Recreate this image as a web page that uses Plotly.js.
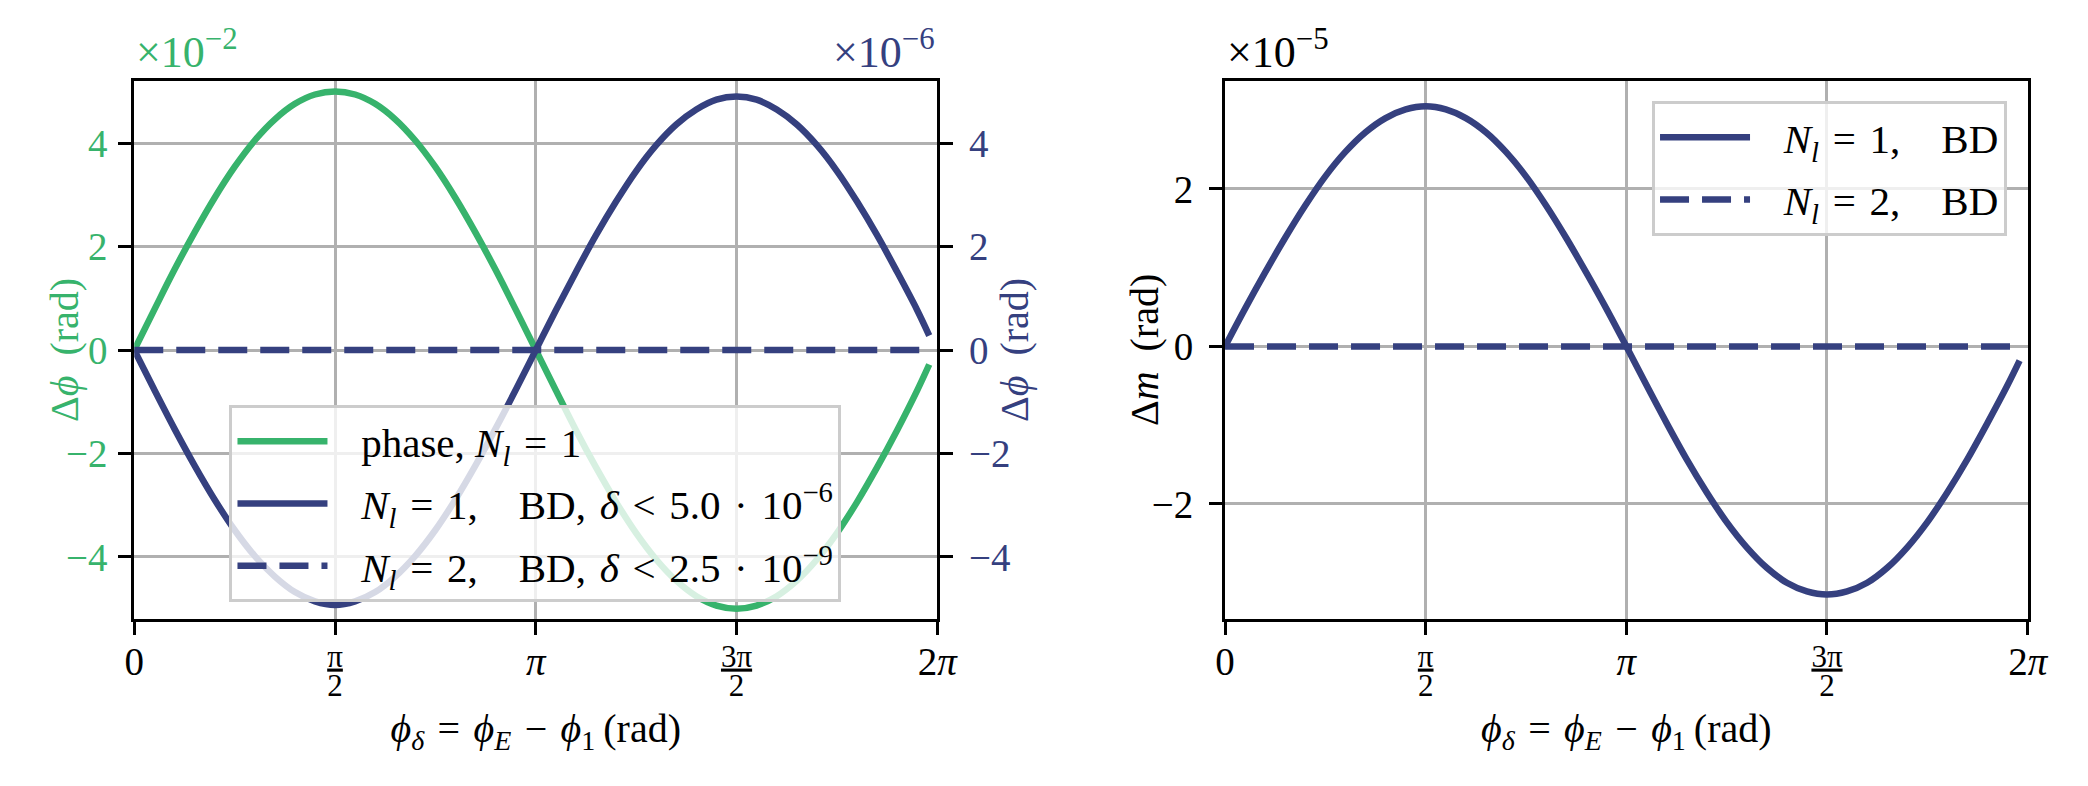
<!DOCTYPE html>
<html>
<head>
<meta charset="utf-8">
<script src="https://cdn.plot.ly/plotly-3.0.1.min.js"></script>
<style>
  body { margin: 0; background: #fff; }
  #graph { width: 2088px; height: 786px; }
</style>
</head>
<body>
<div id="graph"></div>
<script>
var green = '#37b36c';
var navy = '#35407f';
var fontName = 'Liberation Serif, Times New Roman, serif';
var gridGrey = '#b0b0b0';

// phi_delta samples (rad)
var phiDelta = [0, 0.157, 0.314, 0.471, 0.628, 0.785, 0.942, 1.100, 1.257, 1.414,
    1.571, 1.728, 1.885, 2.042, 2.199, 2.356, 2.513, 2.670, 2.827, 2.985,
    3.142, 3.299, 3.456, 3.613, 3.770, 3.927, 4.084, 4.241, 4.398, 4.555,
    4.712, 4.869, 5.027, 5.184, 5.341, 5.498, 5.655, 5.812, 5.969, 6.126, 6.22];

// left panel, left axis (x1e-2 rad): phase, N_l = 1
var phaseN1 = [0, 0.78, 1.55, 2.27, 2.94, 3.54, 4.05, 4.46, 4.76, 4.94,
    5.00, 4.94, 4.76, 4.46, 4.05, 3.54, 2.94, 2.27, 1.55, 0.78,
    0, -0.78, -1.55, -2.27, -2.94, -3.54, -4.05, -4.46, -4.76, -4.94,
    -5.00, -4.94, -4.76, -4.46, -4.05, -3.54, -2.94, -2.27, -1.55, -0.78, -0.28];

// left panel, right axis (x1e-6 rad): N_l = 1, BD
var bdN1 = [0, -0.77, -1.52, -2.23, -2.89, -3.48, -3.98, -4.38, -4.68, -4.86,
    -4.93, -4.86, -4.68, -4.38, -3.98, -3.48, -2.89, -2.23, -1.52, -0.77,
    0, 0.77, 1.51, 2.22, 2.87, 3.46, 3.96, 4.36, 4.65, 4.84,
    4.90, 4.84, 4.65, 4.36, 3.96, 3.46, 2.87, 2.22, 1.51, 0.77, 0.28];

// N_l = 2 curves sit on zero at these scales
var phiFlat = [0, 1.571, 3.142, 4.712, 6.22];
var bdN2 = [0, 0, 0, 0, 0];

// right panel (x1e-5 rad): Delta m
var magN1 = [0, 0.48, 0.94, 1.38, 1.79, 2.16, 2.47, 2.72, 2.90, 3.01,
    3.05, 3.01, 2.90, 2.72, 2.47, 2.16, 1.79, 1.38, 0.94, 0.48,
    0, -0.49, -0.97, -1.43, -1.85, -2.23, -2.55, -2.81, -3.00, -3.11,
    -3.15, -3.11, -3.00, -2.81, -2.55, -2.23, -1.85, -1.43, -0.97, -0.49, -0.18];
var magN2 = [0, 0, 0, 0, 0];

var piTicks = [0, Math.PI / 2, Math.PI, 3 * Math.PI / 2, 2 * Math.PI];
var big = "<span style='font-size:39px'>";
var fracTop = "<span style='font-size:31px;baseline-shift:8px;text-decoration:underline'>";
var fracBot = "<span style='font-size:31px;baseline-shift:8px'>";
var piLabels = [
    big + '0</span>',
    fracTop + 'π</span><br>' + fracBot + '2</span>',
    big + '<i>π</i></span>',
    fracTop + '3π</span><br>' + fracBot + '2</span>',
    big + '2<i>π</i></span>'
];

var sp = '\u2004';
var nl = '<i>N</i><sub><i>l</i></sub>';
var pad = '\u2002\u2009';
var xTitle = '<i>ϕ</i><sub><i>δ</i></sub>' + sp + '=' + sp + '<i>ϕ</i><sub><i>E</i></sub>' + sp + '−' + sp +
    '<i>ϕ</i><sub>1</sub>\u2009(rad)';

var lw = 6.5;
var dashed = '29px,13px';

var data = [
    {x: phiDelta, y: phaseN1, xaxis: 'x', yaxis: 'y', mode: 'lines', line: {color: green, width: lw, shape: 'spline'},
        name: pad + 'phase, ' + nl + sp + '=' + sp + '1', legend: 'legend', legendgroup: 'a'},
    {x: phiDelta, y: bdN1, xaxis: 'x', yaxis: 'y2', mode: 'lines', line: {color: navy, width: lw, shape: 'spline'},
        name: pad + nl + sp + '=' + sp + '1,\u2003BD,' + sp + '<i>δ</i>' + sp + '<' + sp + '5.0' + sp + '·' + sp + '10<sup>−6</sup>',
        legend: 'legend', legendgroup: 'b'},
    {x: phiFlat, y: bdN2, xaxis: 'x', yaxis: 'y2', mode: 'lines', line: {color: navy, width: lw, dash: dashed},
        name: pad + nl + sp + '=' + sp + '2,\u2003BD,' + sp + '<i>δ</i>' + sp + '<' + sp + '2.5' + sp + '·' + sp + '10<sup>−9</sup>',
        legend: 'legend', legendgroup: 'c'},
    {x: phiDelta, y: magN1, xaxis: 'x2', yaxis: 'y3', mode: 'lines', line: {color: navy, width: lw, shape: 'spline'},
        name: pad + nl + sp + '=' + sp + '1,\u2003BD', legend: 'legend2', legendgroup: 'd'},
    {x: phiFlat, y: magN2, xaxis: 'x2', yaxis: 'y3', mode: 'lines', line: {color: navy, width: lw, dash: dashed},
        name: pad + nl + sp + '=' + sp + '2,\u2003BD', legend: 'legend2', legendgroup: 'e'}
];

function xAxis(dom, anchor) {
    return {
        domain: dom, anchor: anchor, range: [0, 2 * Math.PI],
        tickmode: 'array', tickvals: piTicks, ticktext: piLabels,
        tickfont: {size: 23, color: 'black'}, ticklabelstandoff: 12,
        ticks: 'outside', ticklen: 13, tickwidth: 3, tickcolor: 'black',
        showline: true, linewidth: 3, linecolor: 'black', mirror: true,
        showgrid: true, gridcolor: gridGrey, gridwidth: 3, zeroline: false,
        title: {text: xTitle, font: {size: 40, color: 'black'}, standoff: 12}
    };
}

function yAxis(dom, anchor, range, vals, col, labelGap) {
    return {
        domain: dom, anchor: anchor, range: range,
        tickmode: 'array', tickvals: vals,
        tickfont: {size: 39, color: col}, ticklabelstandoff: labelGap,
        ticks: 'outside', ticklen: 13, tickwidth: 3, tickcolor: 'black',
        showline: true, linewidth: 3, linecolor: 'black',
        showgrid: true, gridcolor: gridGrey, gridwidth: 3, zeroline: false
    };
}

var yDom = [0.2125, 0.8969];

var ax1 = yAxis(yDom, 'x', [-5.2, 5.2], [-4, -2, 0, 2, 4], green, 3);
var ax2 = yAxis(yDom, 'x', [-5.2, 5.2], [-4, -2, 0, 2, 4], navy, 8);
ax2.overlaying = 'y';
ax2.side = 'right';
ax2.showgrid = false;
var ax3 = yAxis(yDom, 'x2', [-3.46, 3.37], [-2, 0, 2], 'black', 8);
ax3.mirror = true;

function legendBox(x, y) {
    return {
        x: x, y: y, xanchor: 'left', yanchor: 'top',
        bgcolor: 'rgba(255,255,255,0.8)', bordercolor: '#cccccc', borderwidth: 3,
        font: {size: 41, family: fontName}, itemwidth: 90,
        traceorder: 'grouped', tracegroupgap: 6
    };
}

// rotated y titles, placed as in the reference
function yTitle(px, text, col) {
    return {xref: 'paper', yref: 'paper', x: px / 2088, y: 1 - 350 / 786, xanchor: 'center', yanchor: 'middle',
        textangle: -90, text: text, showarrow: false, font: {size: 40, color: col}};
}

function offsetText(px, anchor, text, col) {
    return {xref: 'paper', yref: 'paper', x: px / 2088, y: 1 - 50 / 786, xanchor: anchor, yanchor: 'middle',
        text: text, showarrow: false, font: {size: 44, color: col}};
}

var layout = {
    width: 2088,
    height: 786,
    margin: {l: 0, r: 0, t: 0, b: 0},
    paper_bgcolor: 'white',
    plot_bgcolor: 'white',
    font: {family: fontName, color: 'black', size: 37},
    showlegend: true,
    xaxis: xAxis([0.0643, 0.4489], 'y'),
    xaxis2: xAxis([0.5867, 0.9711], 'y3'),
    yaxis: ax1,
    yaxis2: ax2,
    yaxis3: ax3,
    legend: legendBox(0.1099, 0.4847),
    legend2: legendBox(0.7912, 0.8715),
    annotations: [
        offsetText(134, 'left', '×10<sup>−2</sup>', green),
        offsetText(937, 'right', '×10<sup>−6</sup>', navy),
        offsetText(1225, 'left', '×10<sup>−5</sup>', 'black'),
        yTitle(64, 'Δ<i>ϕ</i>\u2002(rad)', green),
        yTitle(1014, 'Δ<i>ϕ</i>\u2002(rad)', navy),
        yTitle(1144, 'Δ<i>m</i>\u2002(rad)', 'black')
    ]
};

Plotly.newPlot('graph', data, layout, {staticPlot: true});
</script>
</body>
</html>
